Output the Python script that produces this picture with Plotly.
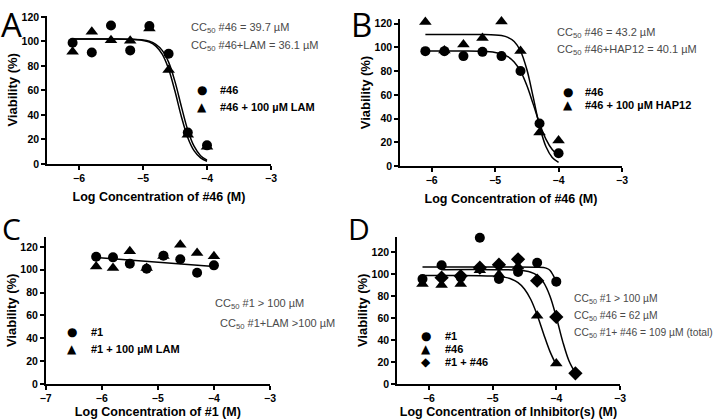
import plotly.graph_objects as go
from plotly.subplots import make_subplots

W, H = 720, 419

# ---- data (log M concentration vs viability %) ----
conc = [-6.1, -5.8, -5.5, -5.2, -4.9, -4.6, -4.3, -4.0]
fit_x = [-6.1, -5.5, -5.2, -5.0, -4.9, -4.8, -4.7, -4.6, -4.5, -4.4, -4.3, -4.2, -4.1, -4.0]

# A: #46 alone / + LAM
a_46 = [98.9, 91, 113, 92.7, 112.5, 90, 25.7, 15.2]
a_lam = [91.6, 108, 101, 100.5, 110.6, 76.7, 23.8, 14]
a_46_fit = [102, 102, 101.8, 101.2, 100.1, 97.7, 92.7, 83.1, 67.2, 46.8, 27.6, 14.3, 6.8, 3.1]
a_lam_fit = [102, 102, 101.8, 100.8, 99.4, 96.2, 89.6, 77.6, 59.3, 38.6, 21.5, 10.7, 5.0, 2.2]

# B: #46 alone / + HAP12
b_46 = [96.9, 96.9, 92.7, 96.3, 92.7, 80.2, 35.9, 10.7]
b_hap = [121.5, 97.5, 102.5, 108, 121.8, 97, 28.2, 21.5]
b_46_fit = [97, 97, 96.7, 95.8, 94.6, 92.2, 87.8, 80.0, 67.9, 52.2, 35.9, 22.7, 13.9, 8.7]
b_hap_fit = [111, 111, 110.9, 110.6, 110.0, 108.5, 105.0, 97.0, 81.4, 58.1, 33.7, 16.4, 7.2, 3.0]

# C: #1 alone / + LAM
c_1 = [111.5, 110.9, 105.4, 101, 112.4, 109.2, 97.5, 103.9]
c_lam = [103, 101.5, 116.2, 101.5, 112, 122, 114.7, 111.8]
c_fit_x = [-6.1, -4.0]
c_fit = [110.8, 103]

# D: #1, #46, #1 + #46 (total concentration)
conc_both = [-5.8, -5.5, -5.2, -4.9, -4.6, -4.3, -4.0, -3.7]
d_1 = [95.5, 108, 97, 133, 95.5, 102, 110.3, 93.1]
d_46 = [91, 90, 91, 103.4, 99.5, 107, 62, 18.7]
d_both = [96.7, 98.2, 105.8, 108.5, 113.4, 94, 61, 9.7]
d_1_fit_x = [-6.1, -5.0, -4.3, -4.2, -4.15, -4.1, -4.05, -4.0]
d_1_fit = [106.4, 106.4, 106.3, 106, 105.2, 103.5, 99, 93]
d_46_fit = [98.6, 98.6, 98.5, 98.2, 97.8, 97.0, 95.3, 92.2, 86.5, 76.9, 62.8, 45.8, 29.7, 17.3]
d_both_fit_x = [-5.8, -5.0, -4.6, -4.4, -4.3, -4.2, -4.1, -4.0, -3.9, -3.8, -3.7]
d_both_fit = [104, 104, 103.6, 101.7, 98.8, 92.4, 80.1, 60.9, 38.8, 20.9, 10.0]

fig = make_subplots(rows=2, cols=2)


def pts(x, y, sym, r, c, size=10):
    fig.add_trace(go.Scatter(x=x, y=y, mode="markers", cliponaxis=False,
                             marker=dict(symbol=sym, size=size, color="black")),
                  row=r, col=c)


def curve(x, y, r, c):
    fig.add_trace(go.Scatter(x=x, y=y, mode="lines", line_shape="spline",
                             line=dict(color="black", width=1.5)),
                  row=r, col=c)


# A
curve(fit_x, a_46_fit, 1, 1)
curve(fit_x, a_lam_fit, 1, 1)
pts(conc, a_lam, "triangle-up", 1, 1, 11)
pts(conc, a_46, "circle", 1, 1)
# B
curve(fit_x, b_46_fit, 1, 2)
curve(fit_x, b_hap_fit, 1, 2)
pts(conc, b_hap, "triangle-up", 1, 2, 11)
pts(conc, b_46, "circle", 1, 2)
# C
curve(c_fit_x, c_fit, 2, 1)
pts(conc, c_lam, "triangle-up", 2, 1, 11)
pts(conc, c_1, "circle", 2, 1)
# D
curve(d_1_fit_x, d_1_fit, 2, 2)
curve(fit_x, d_46_fit, 2, 2)
curve(d_both_fit_x, d_both_fit, 2, 2)
pts(conc, d_46, "triangle-up", 2, 2, 11)
pts(conc, d_1, "circle", 2, 2)
pts(conc_both, d_both, "diamond", 2, 2, 11)


def px(x):
    return x / W


def py(y):
    return 1 - y / H


bold = dict(family="Liberation Sans", color="black", weight="bold")
axis_style = dict(showline=True, linecolor="black", linewidth=1.5, ticks="outside",
                  ticklen=4, tickwidth=1.5, tickcolor="black", showgrid=False,
                  zeroline=False, automargin=False, tickfont=dict(size=10.5, **bold))

# panel boxes in pixels: (left, right, bottom, top), x range, y range, x title
panels = [
    ((47, 271, 164, 15.7), [-6.5, -3], [0, 121], [-6, -5, -4, -3], "Log Concentration of #46 (M)"),
    ((400, 622, 166, 19), [-6.5, -3], [0, 124], [-6, -5, -4, -3], "Log Concentration of #46 (M)"),
    ((45.7, 270, 384, 236.7), [-7, -3], [0, 129], [-7, -6, -5, -4, -3], "Log Concentration of #1 (M)"),
    ((397, 620, 384, 236.7), [-6.5, -3], [0, 134], [-6, -5, -4, -3], "Log Concentration of Inhibitor(s) (M)"),
]
lay = {}
for i, (box, xr, yr, xt, xtitle) in enumerate(panels, start=1):
    k = "" if i == 1 else str(i)
    l, r, b, t = box
    lay["xaxis" + k] = dict(domain=[px(l), px(r)], range=xr, tickvals=xt,
                            title=dict(text=xtitle, font=dict(size=12.5, **bold), standoff=9),
                            **axis_style)
    lay["yaxis" + k] = dict(domain=[py(b), py(t)], range=yr, tickvals=[0, 20, 40, 60, 80, 100, 120],
                            title=dict(text="Viability (%)", font=dict(size=13, **bold), standoff=1),
                            **axis_style)

ann = []
gray = dict(family="Liberation Sans", size=11, color="#4a4a4a")
gray_d = dict(family="Liberation Sans", size=10.3, color="#4a4a4a")


def note(x, y, text, font=gray, xanchor="left", yanchor="middle"):
    ann.append(dict(x=px(x), y=py(y), xref="paper", yref="paper", text=text,
                    showarrow=False, xanchor=xanchor, yanchor=yanchor, font=font))


sym_font = dict(family="DejaVu Sans", size=12, color="black")
leg_font = dict(size=11, **bold)


def legend(x_sym, x_txt, rows):
    for y, s, t in rows:
        note(x_sym, y, s, sym_font, "center")
        note(x_txt, y, t, leg_font)


# panel letters
letter_font = dict(family="Open Sans", size=33, color="black")
note(11, 0, "A", letter_font, "center", "top")
note(361, 0, "B", letter_font, "center", "top")
letter_font2 = dict(family="Open Sans", size=30, color="black")
note(11, 228, "C", letter_font2, "center")
note(359, 228, "D", letter_font2, "center")

# A
note(189, 28, "CC<sub>50</sub> #46 = 39.7 µM")
note(189, 46, "CC<sub>50</sub> #46+LAM = 36.1 µM")
legend(202, 218, [(90, "●", "#46"), (107, "▲", "#46 + 100 µM LAM")])
# B
note(555, 33, "CC<sub>50</sub> #46 = 43.2 µM")
note(555, 50, "CC<sub>50</sub> #46+HAP12 = 40.1 µM")
legend(568, 583, [(92, "●", "#46"), (105, "▲", "#46 + 100 µM HAP12")])
# C
note(213, 304, "CC<sub>50</sub> #1 &gt; 100 µM")
note(218, 324, "CC<sub>50</sub> #1+LAM &gt;100 µM")
legend(72, 89, [(332, "●", "#1"), (349, "▲", "#1 + 100 µM LAM")])
# D
note(572, 299, "CC<sub>50</sub> #1 &gt; 100 µM", gray_d)
note(572, 316, "CC<sub>50</sub> #46 = 62 µM", gray_d)
note(572, 333, "CC<sub>50</sub> #1+ #46 = 109 µM (total)", gray_d)
legend(426, 443, [(336, "●", "#1"), (349, "▲", "#46"), (362, "◆", "#1 + #46")])

fig.update_layout(width=W, height=H, margin=dict(l=0, r=0, t=0, b=0),
                  plot_bgcolor="white", paper_bgcolor="white", showlegend=False,
                  annotations=ann, **lay)

# the page body has a default 8px margin; drop it so the figure fills the window
fig.write_html("out.html", config={"displayModeBar": False},
               post_script="document.body.style.margin='0';")
